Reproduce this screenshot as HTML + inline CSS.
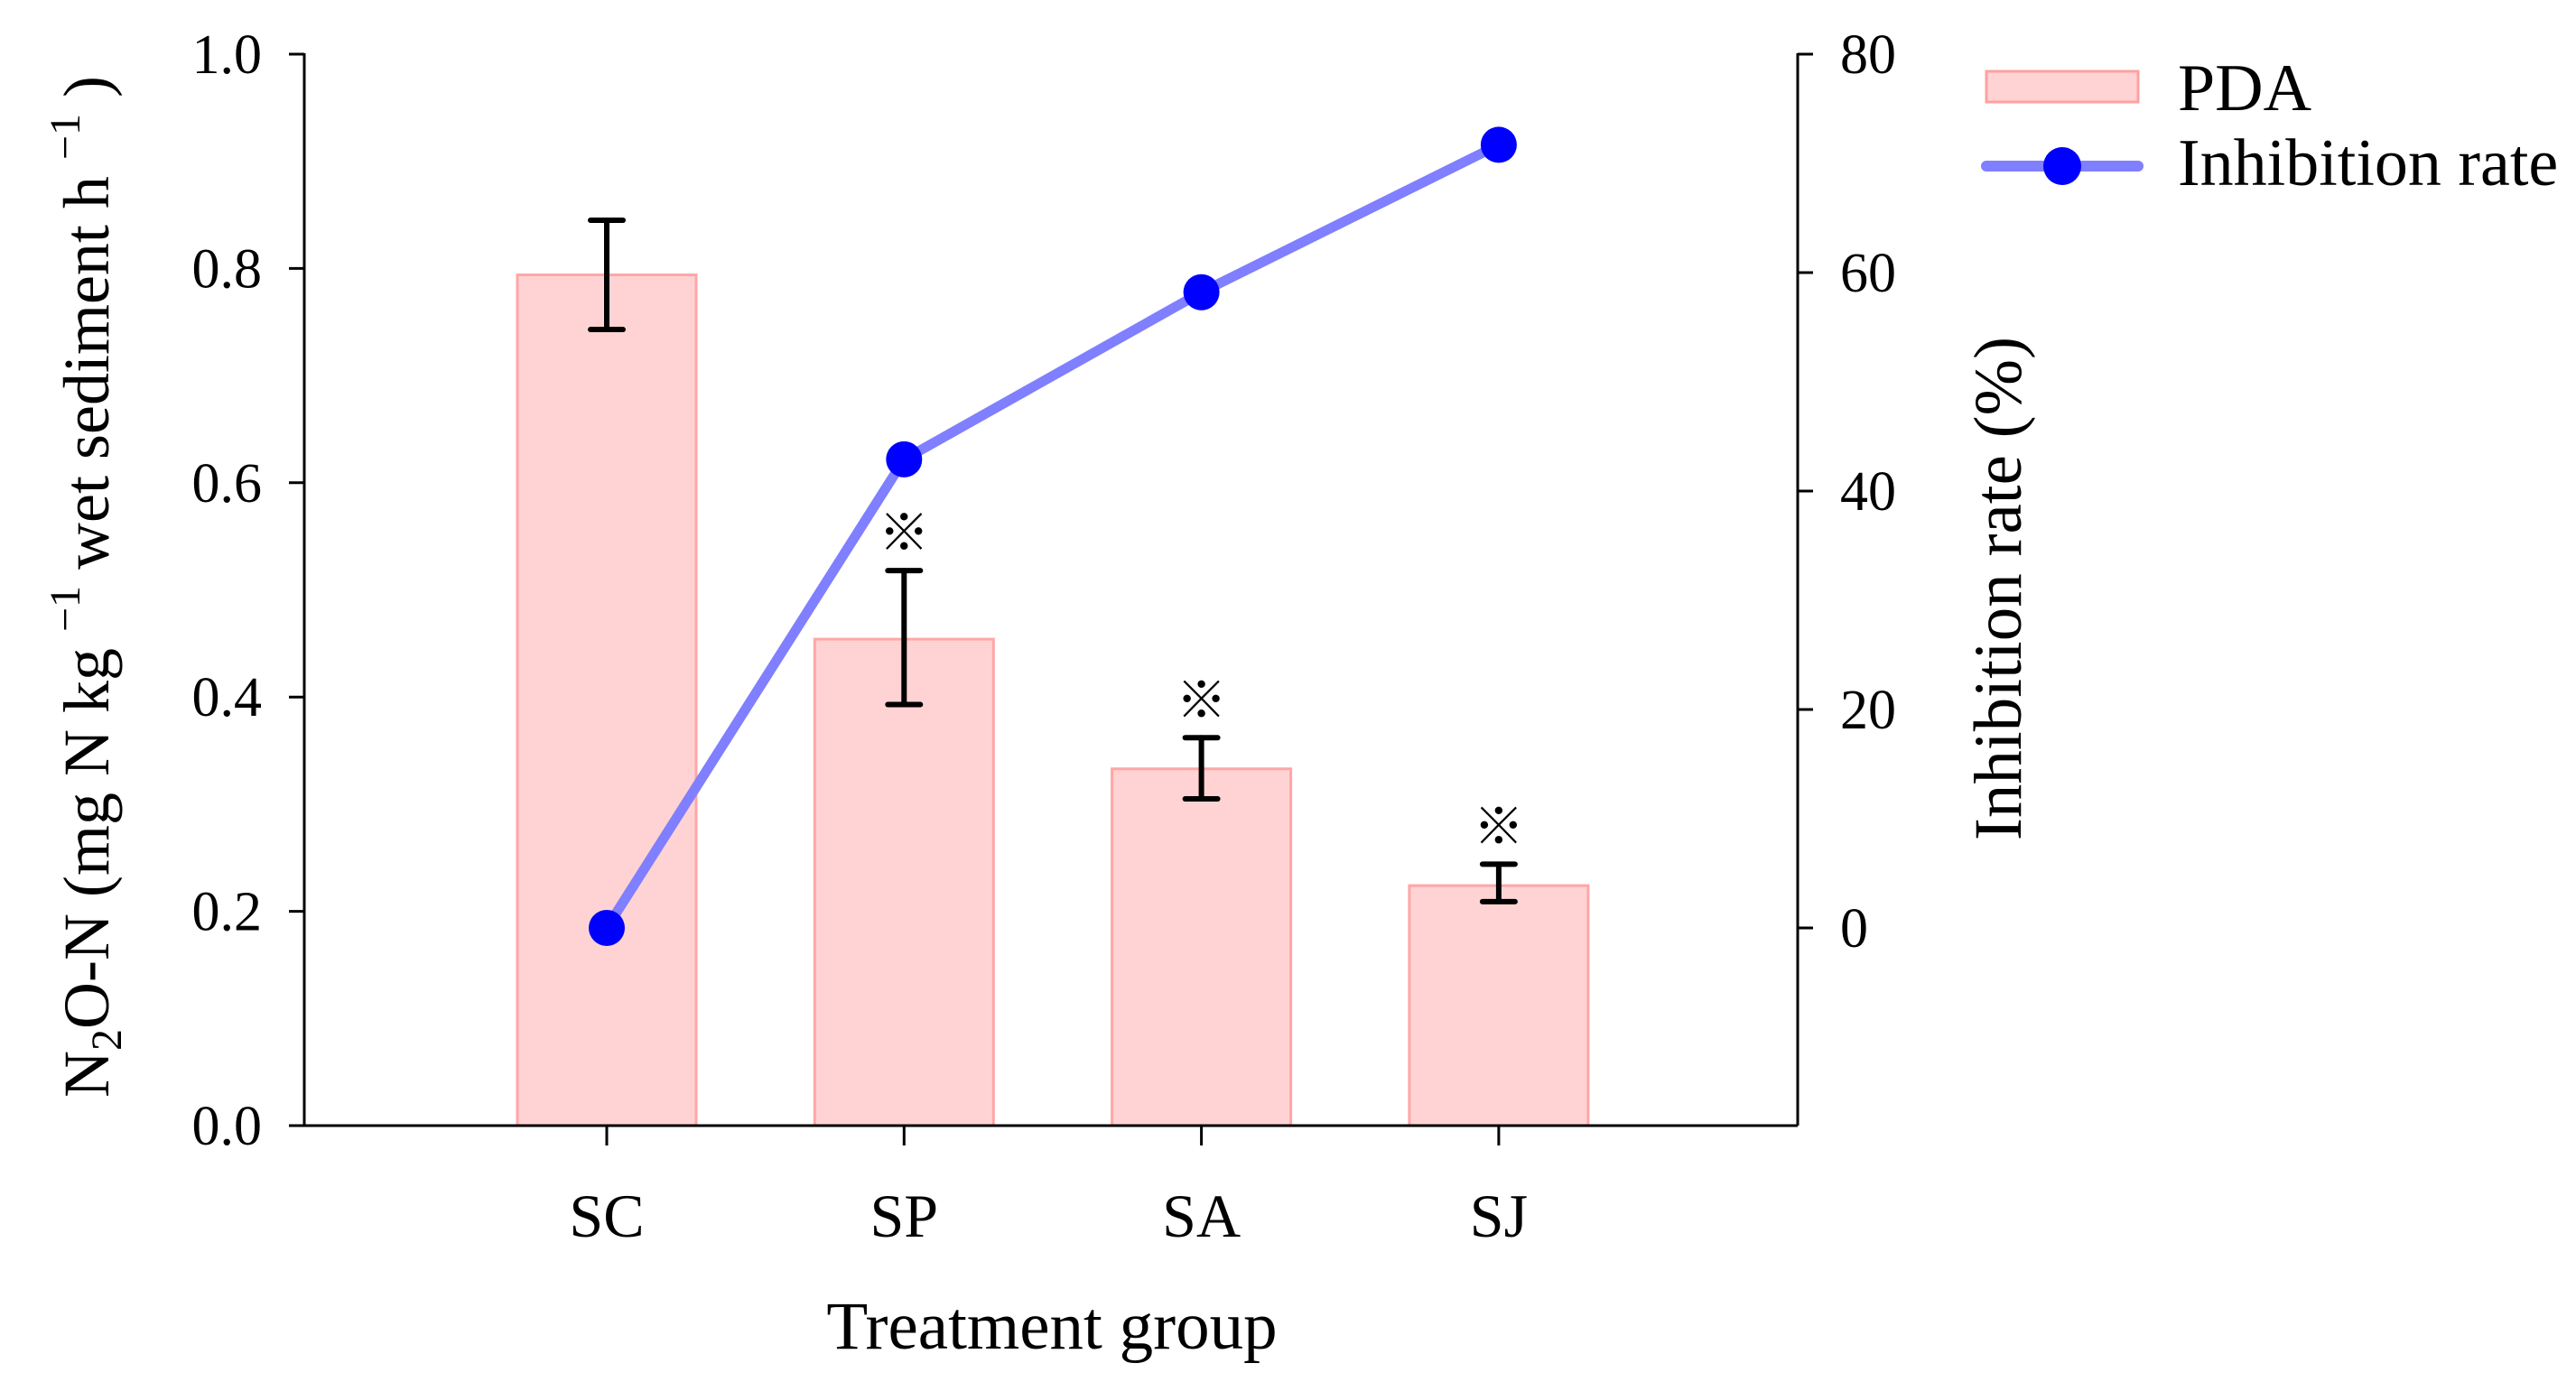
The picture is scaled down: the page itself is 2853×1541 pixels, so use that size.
<!DOCTYPE html>
<html><head><meta charset="utf-8"><style>
html,body{margin:0;padding:0;background:#fff}
svg{display:block;font-family:"Liberation Serif",serif}
</style></head><body>
<svg id="chart" width="2853" height="1541" viewBox="0 0 2853 1541" xmlns="http://www.w3.org/2000/svg">
<g id="plot"></g>
<g>
  <rect x="2200" y="79" width="168" height="34" fill="#ffd3d3" stroke="#ffa0a0" stroke-width="3"/>
  <text x="2412" y="122" font-size="74">PDA</text>
  <line x1="2200" y1="184" x2="2368" y2="184" stroke="#7f7fff" stroke-width="12" stroke-linecap="round"/>
  <circle cx="2284" cy="184" r="21" fill="#0000ff"/>
  <text x="2412" y="205" font-size="74">Inhibition rate</text>
</g>
</svg>
<script>
const categories = ["SC", "SP", "SA", "SJ"];
const pdaValues = [0.794, 0.454, 0.333, 0.224];
const pdaErrUpper = [0.845, 0.518, 0.362, 0.244];
const pdaErrLower = [0.743, 0.393, 0.305, 0.209];
const significant = [false, true, true, true];
const inhibitionValues = [0, 42.9, 58.2, 71.7];
const leftTicks = [0.0, 0.2, 0.4, 0.6, 0.8, 1.0];
const leftTickLabels = ["0.0", "0.2", "0.4", "0.6", "0.8", "1.0"];
const rightTicks = [0, 20, 40, 60, 80];
const rightTickLabels = ["0", "20", "40", "60", "80"];

const NS = "http://www.w3.org/2000/svg";
const g = document.getElementById("plot");
const L = 337, R = 1991, T = 60, B = 1247;
const yL = v => B - (v - 0) / 1.0 * (B - T);
const yR = v => 1028 - v / 80 * (1028 - T);
const xC = i => 672 + i * 329.3;
const bw = 198;
function mk(tag, attrs, parent) {
  const e = document.createElementNS(NS, tag);
  for (const k in attrs) e.setAttribute(k, attrs[k]);
  (parent || g).appendChild(e);
  return e;
}
categories.forEach((c, i) => {
  const b = mk("rect", {x: xC(i) - bw / 2, y: yL(pdaValues[i]), width: bw, height: B - yL(pdaValues[i]), fill: "#ffd3d3", stroke: "#ffa6a6", "stroke-width": 3});
  
  
});
categories.forEach((c, i) => {
  const eg = mk("g", {stroke: "#000", "stroke-width": 6, "stroke-linecap": "round"});
  
  
  const x = xC(i), y1 = yL(pdaErrUpper[i]), y2 = yL(pdaErrLower[i]);
  mk("line", {x1: x, y1: y1, x2: x, y2: y2}, eg);
  mk("line", {x1: x - 18, y1: y1, x2: x + 18, y2: y1}, eg);
  mk("line", {x1: x - 18, y1: y2, x2: x + 18, y2: y2}, eg);
  if (significant[i]) {
    const s = mk("text", {x: x, y: y1 - 22, "text-anchor": "middle", "font-size": 56, "font-family": "'Liberation Sans','Noto Sans CJK SC',sans-serif"});
    s.textContent = "※";
    
    
  }
});
const ax = mk("g", {stroke: "#000", "stroke-width": 3, fill: "none"});


mk("line", {x1: L, y1: T - 1, x2: L, y2: B}, ax);
mk("line", {x1: L, y1: B, x2: R, y2: B}, ax);
mk("line", {x1: R, y1: T - 1, x2: R, y2: B}, ax);
leftTicks.forEach((v, i) => {
  mk("line", {x1: L - 17, y1: yL(v), x2: L, y2: yL(v)}, ax);
  const t = mk("text", {x: 290, y: yL(v) + 21, "text-anchor": "end", "font-size": 62});
  t.textContent = leftTickLabels[i];
  
  
});
rightTicks.forEach((v, i) => {
  mk("line", {x1: R, y1: yR(v), x2: R + 17, y2: yR(v)}, ax);
  const t = mk("text", {x: 2038, y: yR(v) + 21, "font-size": 62});
  t.textContent = rightTickLabels[i];
  
  
});
categories.forEach((c, i) => {
  mk("line", {x1: xC(i), y1: B, x2: xC(i), y2: B + 22}, ax);
  const t = mk("text", {x: xC(i), y: 1370, "text-anchor": "middle", "font-size": 68});
  t.textContent = c;
  
  
});
const pts = inhibitionValues.map((v, i) => xC(i) + "," + yR(v)).join(" ");
const pl = mk("polyline", {points: pts, fill: "none", stroke: "#7f7fff", "stroke-width": 11, "stroke-linejoin": "round", "stroke-linecap": "round"});


inhibitionValues.forEach((v, i) => {
  const c = mk("circle", {cx: xC(i), cy: yR(v), r: 20, fill: "#0000ff"});
  
  
});
const xt = mk("text", {x: 1165, y: 1494, "text-anchor": "middle", "font-size": 75});
xt.textContent = "Treatment group";


const rt = mk("text", {x: 0, y: 0, "text-anchor": "middle", "font-size": 75, transform: "translate(2238,652) rotate(-90)"});
rt.textContent = "Inhibition rate (%)";


const lt = mk("text", {x: 0, y: 0, "text-anchor": "middle", "font-size": 72, transform: "translate(120,650) rotate(-90)"});


lt.innerHTML = 'N<tspan font-size="48" dy="14">2</tspan><tspan dy="-14">O-N (mg N kg </tspan><tspan font-size="48" dy="-32">−1</tspan><tspan dy="32"> wet sediment h </tspan><tspan font-size="48" dy="-32">−1</tspan><tspan dy="32"> )</tspan>';
</script>
</body></html>
